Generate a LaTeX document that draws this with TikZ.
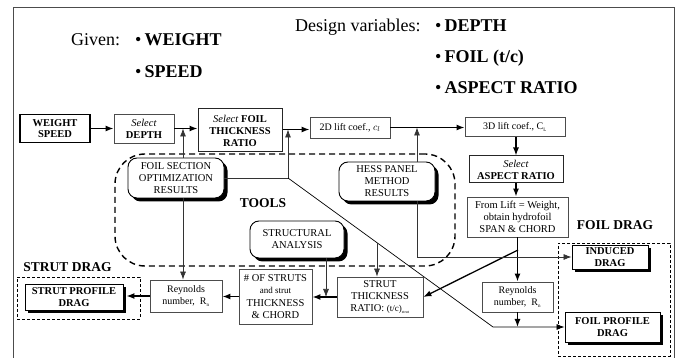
\documentclass[tikz,border=0pt]{standalone}
\usepackage{fontspec}
\setmainfont{Liberation Serif}
\usetikzlibrary{arrows.meta,shadows,calc}
\newcommand\fsz[2]{\fontsize{#1}{#2}\selectfont}
\tikzset{
  box/.style={draw=black!70, line width=0.8pt, fill=white, align=center, inner sep=1pt, font=\fsz{10}{11.5}},
  rbox/.style={draw=black, line width=0.9pt, fill=white, align=center, inner sep=1pt, rounded corners=9pt,
     drop shadow={shadow xshift=3.5pt, shadow yshift=-3.5pt, fill=black, opacity=1}, font=\fsz{10.5}{12}},
  sbox/.style={draw=black, line width=0.9pt, fill=white, align=center, inner sep=1pt,
     drop shadow={shadow xshift=3pt, shadow yshift=-3pt, fill=black, opacity=1}, font=\bfseries\fsz{10.5}{12}},
  frame/.style={draw=black, dashed, line width=0.8pt, dash pattern=on 3pt off 2pt},
  main/.style={-{Latex[length=8pt,width=6pt]}, line width=1.3pt},
  conn/.style={-{Latex[length=8pt,width=6pt]}, line width=0.7pt, draw=black!80},
  lbl/.style={font=\bfseries\fsz{13.5}{15}, inner sep=0pt},
  ttl/.style={font=\fsz{18}{20}, anchor=base west, inner sep=0pt}
}
\begin{document}
\begin{tikzpicture}[x=1pt,y=-1pt]
\useasboundingbox (0,0) rectangle (678,358);
% outer frame
\draw[black!70, line width=1pt] (13,358) -- (13,8) -- (674,8) -- (674,358);

% title
\node[ttl] (tg) at (71,46) {Given:};
\node[ttl] (tw) at (135,46) {\textbullet\,\textbf{WEIGHT}};
\node[ttl] (ts) at (135,78) {\textbullet\,\textbf{SPEED}};
\node[ttl] (td) at (295,32) {Design variables:};
\node[ttl] (tdp) at (435,32) {\textbullet\,\textbf{DEPTH}};
\node[ttl] (tf) at (435,63) {\textbullet\,\textbf{FOIL (t/c)}};
\node[ttl] (ta) at (435,94) {\textbullet\,\textbf{ASPECT RATIO}};

% tools region
\node[draw=black, dashed, dash pattern=on 6pt off 4pt, line width=1.4pt, rounded corners=30pt,
      minimum width=340pt, minimum height=112pt, inner sep=0pt] (tools) at (285,210) {};
\node[font=\bfseries\fsz{13.5}{15}, inner sep=0pt] (toolslbl) at (263,203) {TOOLS};

% drag frames
\node[frame, minimum width=123pt, minimum height=42pt, inner sep=0pt] (sdf) at (78.5,298) {};
\node[frame, minimum width=112pt, minimum height=113pt, inner sep=0pt] (fdf) at (614,299.5) {};
\node[lbl] (sdl) at (67.5,267) {STRUT DRAG};
\node[lbl] (fdl) at (615,225) {FOIL DRAG};

% boxes
\node[box, draw=black, line width=1.4pt, minimum width=70pt, minimum height=28pt, font=\bfseries\fsz{10.5}{11.5}] (ws) at (55,128.5) {WEIGHT\\SPEED};
\node[box, minimum width=60pt, minimum height=29pt, font=\fsz{10.5}{12}] (dep) at (144,128.5) {\textit{Select}\\\textbf{DEPTH}};
\node[box, draw=black!85, line width=1pt, minimum width=84pt, minimum height=43pt, font=\fsz{10.5}{12}] (ftr) at (240,130.5) {\textit{Select} \textbf{FOIL}\\\textbf{THICKNESS}\\\textbf{RATIO}};
\node[box, minimum width=80pt, minimum height=21pt] (l2d) at (350,127.5) {2D lift coef., $c_l$};
\node[box, minimum width=100pt, minimum height=19pt] (l3d) at (515,127) {3D lift coef., C\textsubscript{\fsz{5}{5}L}};
\node[box, draw=black!85, line width=1pt, minimum width=94pt, minimum height=27pt, font=\fsz{10.5}{12}] (asp) at (516,169.5) {\textit{Select}\\\textbf{ASPECT RATIO}};
\node[box, minimum width=101pt, minimum height=40pt, font=\fsz{10.5}{12}] (lift) at (517.5,217) {From Lift = Weight,\\obtain hydrofoil\\SPAN \& CHORD};
\node[rbox, minimum width=96pt, minimum height=40pt] (fso) at (176,178) {FOIL SECTION\\OPTIMIZATION\\RESULTS};
\node[rbox, minimum width=96pt, minimum height=39pt] (hess) at (387,181.5) {HESS PANEL\\METHOD\\RESULTS};
\node[rbox, minimum width=94pt, minimum height=37pt] (struct) at (297,239.5) {STRUCTURAL\\ANALYSIS};
\node[box, minimum width=72pt, minimum height=32pt, font=\fsz{10}{12}] (reyL) at (186,296) {Reynolds\\number,~ R\textsubscript{\fsz{5}{5}n}};
\node[box, minimum width=73pt, minimum height=55pt, font=\fsz{10.5}{12.2}] (nos) at (275.5,296.5) {\# OF STRUTS\\{\fsz{9}{12.2}and strut}\\THICKNESS\\\& CHORD};
\node[box, minimum width=86pt, minimum height=40pt, font=\fsz{10.5}{12}] (stc) at (380,297) {STRUT\\THICKNESS\\RATIO: {\fsz{9}{12}(t/c)}\textsubscript{\fsz{4}{4}strut}};
\node[box, minimum width=71pt, minimum height=30pt, font=\fsz{10}{12}] (reyR) at (517.5,297) {Reynolds\\number,~ R\textsubscript{\fsz{5}{5}n}};
\node[sbox, minimum width=98pt, minimum height=26pt] (spd) at (74,297) {STRUT PROFILE\\DRAG};
\node[sbox, minimum width=76pt, minimum height=24pt] (ind) at (610,257) {INDUCED\\DRAG};
\node[sbox, minimum width=95pt, minimum height=30pt] (fpd) at (612.5,327) {FOIL PROFILE\\DRAG};

% junction coordinates
\coordinate (j1) at (183,128.5);
\coordinate (j2) at (288,129.5);
\coordinate (j3) at (417,127.5);
\coordinate (j4) at (326,297);
\coordinate (k1) at (288,178);
\coordinate (k2) at (493,327);
\coordinate (k3) at ($(k1)!0.4341!(k2)$);
\coordinate (k4) at (518,250);

% main flow
\draw[main] (ws.east |- j1) -- (dep.west |- j1);
\draw[main] (dep.east |- j1) -- (ftr.west |- j1);
\draw[main] (ftr.east |- j2) -- (l2d.west |- j2);
\draw[main] (l2d.east |- j3) -- (l3d.west |- j3);
\draw[main] (l3d.south -| asp) -- (asp.north);
\draw[main] (asp.south) -- (asp.south |- lift.north);
\draw[main] (lift.south -| reyR) -- (reyR.north);
\draw[main] (reyR.south) -- (reyR.south |- k2);
\draw[main] (k4) -- (stc.east);
\draw[main] (stc.west) -- (nos.east |- stc.west);
\draw[main] (nos.west) -- (reyL.east |- nos.west);
\draw[main] (reyL.west) -- ([xshift=3pt]spd.east |- reyL.west);

% tool connectors
\draw[conn] (fso.north -| j1) -- (j1);
\draw[conn] (fso.south -| j1) -- (reyL.north -| j1);
\draw[conn] (fso.east |- k1) -- (k1) -- (j2);
\draw[conn, draw=black] (k1) -- (k2) -- (fpd.west);
\draw[conn] (k3) -- (stc.north -| k3);
\draw[conn] (hess.north -| j3) -- (j3);
\draw[conn] (hess.south -| j3) |- (ind.west);
\draw[conn] (struct.south -| j4) -- (j4);
\end{tikzpicture}
\end{document}
